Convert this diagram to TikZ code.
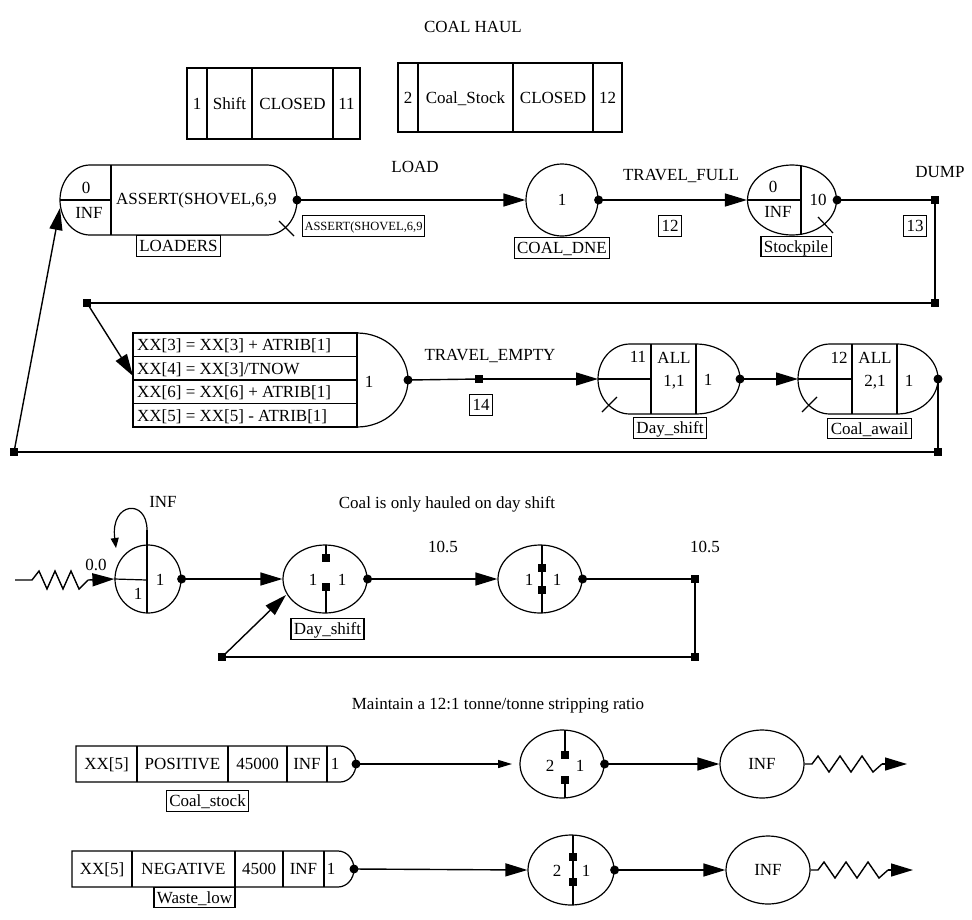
\documentclass[tikz,border=0pt]{standalone}
\usepackage{fontspec}
\setmainfont{Liberation Serif}
\usetikzlibrary{arrows.meta,shapes.geometric}
\begin{document}
\begin{tikzpicture}[x=1pt,y=-1pt,
  every node/.style={font=\fontsize{17}{19}\selectfont, inner sep=0pt, text height=11.5pt, text depth=0pt},
  ln/.style={line width=1.4pt},
  ol/.style={line width=1.2pt},
  arr/.style={ln,-{Triangle[length=22pt,width=13pt]}},
  sarr/.style={ln,-{Triangle[length=14pt,width=8pt]}},
  larr/.style={ol,-{Triangle[length=10pt,width=8pt]}},
  sq/.style={rectangle, fill=black, minimum size=8pt, text height=0pt, text depth=0pt},
  dot/.style={circle, fill=black, minimum size=9pt, text height=0pt, text depth=0pt},
  lab/.style={draw, line width=1.2pt, inner xsep=3pt, inner ysep=4.5pt},
  ell/.style={ellipse, draw, line width=1.2pt, minimum width=84pt, minimum height=68pt},
]
\useasboundingbox (0,0) rectangle (972,919);

% ---------------- title and tables
\node (title) at (473,27) {COAL HAUL};

\draw[ol] (187,68) rectangle (360,139);
\draw[ol] (207,68) -- (207,139) (252,68) -- (252,139) (333,68) -- (333,139);
\node (sh1) at (197,104) {1};
\node (sh2) at (229.5,104) {Shift};
\node (sh3) at (292.5,104) {CLOSED};
\node (sh4) at (346.5,104) {11};

\draw[ol] (398,63) rectangle (622,132);
\draw[ol] (418,63) -- (418,132) (513,63) -- (513,132) (593,63) -- (593,132);
\node (cs1) at (408,98) {2};
\node (cs2) at (465.5,98) {Coal\_Stock};
\node (cs3) at (553,98) {CLOSED};
\node (cs4) at (607.5,98) {12};

% ---------------- LOADERS
\draw[ol] (90,165) -- (267,165) arc (-90:90:30 and 35) -- (90,235) arc (90:270:30 and 35) -- cycle;
\draw[ol] (111,165) -- (111,235);
\draw[ol] (60,200) -- (111,200);
\node (ld0) at (86,188) {0};
\node (ldinf) at (89,213) {INF};
\node[anchor=west] (ldtxt) at (116,199) {ASSERT(SHOVEL,6,9};
\node[dot] (lddot) at (297,200) {};
\draw[ol] (279,221) -- (294,236);
\node[lab] (loaders) at (178.5,246) {LOADERS};
\coordinate (ldin) at (60,208);

% ---------------- COAL_DNE
\node[ell, minimum width=72pt, minimum height=72pt] (dne) at (562,200) {1};
\node[dot] (dnedot) at (dne.east) {};
\node (load) at (415,167) {LOAD};
\node[lab, font=\fontsize{12.5}{14}\selectfont, text height=8.5pt, inner ysep=6pt, inner xsep=2pt] (asrt) at (363.5,226) {ASSERT(SHOVEL,6,9};
\node[lab] (dnelab) at (562,248) {COAL\_DNE};
\draw[arr] (lddot.center) -- (dne.west);

% ---------------- Stockpile
\node[ell, minimum width=89pt, minimum height=70pt] (stock) at (792,200) {};
\draw[ol] (801,166) -- (801,234);
\draw[ol] (stock.west) -- (801,200);
\node (st0) at (773,187) {0};
\node (stinf) at (778,212) {INF};
\node (st10) at (818,200) {10};
\node[dot] (stdot) at (stock.east) {};
\draw[ol] (818,217) -- (833,233);
\node[lab] (stocklab) at (796,246.5) {Stockpile};
\draw[arr] (dnedot.center) -- (stock.west);
\node (tfull) at (681,175) {TRAVEL\_FULL};
\node[lab] (b12) at (670,226) {12};

% ---------------- DUMP
\node[sq] (dump) at (935,200) {};
\node (dumpl) at (940,172) {DUMP};
\node[lab] (b13) at (915,226) {13};
\draw[ln] (stdot.center) -- (dump.center);
\node[sq] (c1) at (935,303) {};
\node[sq] (c2) at (87,303) {};
\draw[ln] (dump.center) -- (c1.center) -- (c2.center);
\coordinate (asgin) at (133,376);
\draw[arr] (c2.center) -- (asgin);

% ---------------- assign node
\draw[ol] (133,333) rectangle (357,427);
\draw[ol] (133,356.5) -- (357,356.5) (133,380) -- (357,380) (133,403.5) -- (357,403.5);
\draw[ol] (357,333) arc (-90:90:51 and 47);
\node[anchor=west] (r1) at (137,345) {XX[3] = XX[3] + ATRIB[1]};
\node[anchor=west] (r2) at (137,368.5) {XX[4] = XX[3]/TNOW};
\node[anchor=west] (r3) at (137,392) {XX[6] = XX[6] + ATRIB[1]};
\node[anchor=west] (r4) at (137,415.5) {XX[5] = XX[5] - ATRIB[1]};
\node (asg1) at (369,382) {1};
\node[dot] (asgdot) at (408,380) {};

\node (tempty) at (490,355) {TRAVEL\_EMPTY};
\node[sq] (te14) at (479,379) {};
\node[lab] (b14) at (481,405) {14};
\coordinate (dsin) at (598,379);
\draw[ln] (asgdot.center) -- (te14.center);
\draw[arr] (te14.center) -- (dsin);

% ---------------- Day_shift
\draw[ol] (630,344) -- (696,344) arc (-90:90:44 and 35) -- (630,414) arc (90:270:32 and 35) -- cycle;
\draw[ol] (651,344) -- (651,414) (696,344) -- (696,414);
\draw[ol] (598,379) -- (651,379);
\node (ds11) at (638,357) {11};
\node (dsall) at (674,358) {ALL};
\node (ds1c1) at (674,381) {1,1};
\node (ds1) at (708,380) {1};
\draw[ol] (602,412) -- (617,397);
\node[dot] (dsdot) at (740,379) {};
\node[lab] (dslab) at (670,428) {Day\_shift};
\coordinate (cain) at (798,379);
\draw[arr] (dsdot.center) -- (cain);

% ---------------- Coal_awail
\draw[ol] (830,344) -- (897,344) arc (-90:90:41 and 35) -- (830,414) arc (90:270:32 and 35) -- cycle;
\draw[ol] (852,344) -- (852,414) (897,344) -- (897,414);
\draw[ol] (798,379) -- (852,379);
\node (ca12) at (839,358) {12};
\node (caall) at (875,358) {ALL};
\node (ca21) at (875,381) {2,1};
\node (ca1) at (909,381) {1};
\draw[ol] (802,412) -- (817,397);
\node[dot] (cadot) at (938,379) {};
\node[lab] (calab) at (869.5,428.5) {Coal\_awail};
\node[sq] (c3) at (938,452) {};
\node[sq] (c4) at (14,452) {};
\draw[ln] (cadot.center) -- (c3.center) -- (c4.center);
\draw[arr] (c4.center) -- (ldin);

% ---------------- middle network
\node (msg1) at (447,503) {Coal is only hauled on day shift};
\node[ell, minimum width=66pt, minimum height=68pt] (cr) at (148,579) {};
\draw[ol] (147,530) -- (147,613);
\draw[ol] (cr.west) -- (147,580);
\node (cr1) at (138,594) {1};
\node (cr2) at (160,580) {1};
\coordinate (loopend) at (116,548);
\draw[larr] (147,530) .. controls (147,498) and (110,502) .. (loopend);
\node (inf1) at (163,502) {INF};
\coordinate (zz0) at (15,580);
\coordinate (zz1) at (88,580);
\draw[ln] (zz0) -- (32,580) -- (39,571) -- (47,589) -- (55,571) -- (63,589) -- (71,571) -- (79,589) -- (zz1);
\draw[arr] (zz1) -- (cr.west);
\node (zero) at (96,565) {0.0};
\node[dot] (crdot) at (cr.east) {};

\node[ell] (ds2) at (325,579) {};
\draw[ol] (326,545) -- (326,558) (326,587) -- (326,613);
\node[sq] (ds2a) at (326,558) {};
\node[sq] (ds2b) at (326,587) {};
\node (ds2l) at (313,580) {1};
\node (ds2r) at (342,580) {1};
\node[dot] (ds2dot) at (ds2.east) {};
\node[lab] (ds2lab) at (327.5,629) {Day\_shift};
\draw[arr] (crdot.center) -- (ds2.west);

\node[ell] (g2) at (540,579) {};
\draw[ol] (542,545) -- (542,613);
\node[sq] (g2a) at (542,568) {};
\node[sq] (g2b) at (542,590) {};
\node (g2l) at (529,580) {1};
\node (g2r) at (557,580) {1};
\node[dot] (g2dot) at (g2.east) {};
\node (t105a) at (443,547) {10.5};
\draw[arr] (ds2dot.center) -- (g2.west);

\node[sq] (g2sq) at (695,579) {};
\node (t105b) at (705,547) {10.5};
\node[sq] (c5) at (695,657) {};
\node[sq] (c6) at (222,657) {};
\coordinate (ds2in) at (286,595);
\draw[ln] (g2dot.center) -- (g2sq.center) -- (c5.center) -- (c6.center);
\draw[arr] (c6.center) -- (ds2in);

% ---------------- bottom network
\node (msg2) at (498,704) {Maintain a 12:1 tonne/tonne stripping ratio};

\draw[ol] (340,746) -- (76,746) -- (76,782) -- (340,782) arc (90:-90:16 and 18);
\draw[ol] (137,746) -- (137,782) (228,746) -- (228,782) (287,746) -- (287,782) (327,746) -- (327,782);
\node (p1) at (106.5,764) {XX[5]};
\node (p2) at (182.5,764) {POSITIVE};
\node (p3) at (257.5,764) {45000};
\node (p4) at (307,764) {INF};
\node (p5) at (335,764) {1};
\node[dot] (pdot) at (356,764) {};
\node[lab] (cslab) at (207.5,801) {Coal\_stock};
\coordinate (ptip) at (512,764);
\draw[sarr] (pdot.center) -- (ptip);

\node[ell] (pg) at (562,764) {};
\draw[ol] (565,730) -- (565,755) (565,780) -- (565,798);
\node[sq] (pga) at (565,755) {};
\node[sq] (pgb) at (565,780) {};
\node (pgl) at (550,766) {2};
\node (pgr) at (580,766) {1};
\node[dot] (pgdot) at (pg.east) {};
\node[ell] (pinf) at (762,764) {INF};
\draw[arr] (pgdot.center) -- (pinf.west);
\coordinate (pz1) at (882,764);
\draw[ln] (pinf.east) -- (812,764) -- (818,756) -- (829,772) -- (840,756) -- (851,772) -- (862,756) -- (873,772) -- (pz1);
\coordinate (pend) at (907,764);
\draw[arr] (pz1) -- (pend);

\draw[ol] (338,851) -- (72,851) -- (72,887) -- (338,887) arc (90:-90:16 and 18);
\draw[ol] (132,851) -- (132,887) (235,851) -- (235,887) (283,851) -- (283,887) (324,851) -- (324,887);
\node (n1) at (102,869) {XX[5]};
\node (n2) at (183.5,869) {NEGATIVE};
\node (n3) at (259,869) {4500};
\node (n4) at (303.5,869) {INF};
\node (n5) at (331,869) {1};
\node[dot] (ndot) at (354,869) {};
\node[lab] (wllab) at (194.5,897.5) {Waste\_low};

\node[ell, minimum width=86pt, minimum height=70pt] (ng) at (571,870) {};
\draw[ol] (573,835) -- (573,905);
\node[sq] (nga) at (573,857) {};
\node[sq] (ngb) at (573,882) {};
\node (ngl) at (557,871) {2};
\node (ngr) at (586,871) {1};
\node[dot] (ngdot) at (ng.east) {};
\draw[arr] (ndot.center) -- (ng.west);
\node[ell] (ninf) at (768,870) {INF};
\draw[arr] (ngdot.center) -- (ninf.west);
\coordinate (nz1) at (888,870);
\draw[ln] (ninf.east) -- (818,870) -- (824,862) -- (835,878) -- (846,862) -- (857,878) -- (868,862) -- (879,878) -- (nz1);
\coordinate (nend) at (913,870);
\draw[arr] (nz1) -- (nend);
\end{tikzpicture}
\end{document}
